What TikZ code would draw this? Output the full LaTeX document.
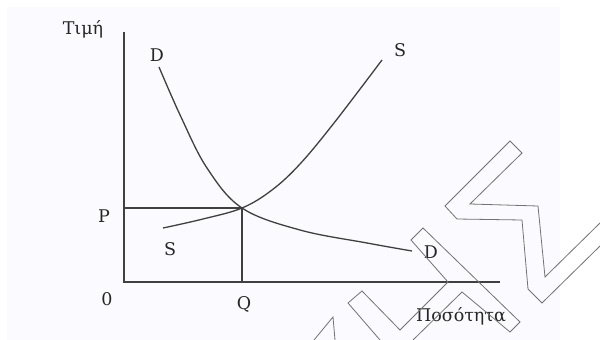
\documentclass[tikz,border=0pt]{standalone}
\usepackage{fontspec}
\setmainfont{DejaVu Serif}
\begin{document}
\begin{tikzpicture}[x=1pt,y=-1pt,
  axis/.style={draw=black!75,line width=1.4pt},
  curve/.style={draw=black!75,line width=1.3pt},
  guide/.style={draw=black!75,line width=1.3pt},
  wm/.style={draw=black!55,line width=0.8pt,line join=miter},
  lbl/.style={inner sep=0pt,font=\fontsize{17.5}{20}\selectfont,text=black!85}]
\useasboundingbox (0,0) rectangle (600,340);
\fill[white] (0,0) rectangle (600,340);
\fill[black!5!blue!2!white] (7,7) rectangle (560,340);
% axes
\coordinate (O) at (124,282);
\coordinate (ytop) at (124,32);
\coordinate (xend) at (500,282);
\coordinate (E) at (242,208);
\coordinate (Pp) at (124,208);
\coordinate (Qq) at (242,282);
\draw[axis] (ytop) -- (O) -- (xend);
\draw[guide] (Pp) -- (E) -- (Qq);
% demand
\draw[curve] plot[smooth,tension=0.6] coordinates {(159,67) (181,117) (207,168) (242,208) (300,230) (367,243) (412,251)};
% supply
\draw[curve] plot[smooth,tension=0.6] coordinates {(163,228) (203,219) (242,208) (272,190) (300,164) (334,123) (382,60)};
% labels
\node[lbl] (tim) at (83,29) {Τιμή};
\node[lbl] (D1) at (157,55) {D};
\node[lbl] (S1) at (400,50) {S};
\node[lbl] (P) at (104,216) {P};
\node[lbl] (S2) at (170,249) {S};
\node[lbl] (D2) at (431,252) {D};
\node[lbl] (zero) at (107,299) {0};
\node[lbl] (Q) at (244,304) {Q};
\node[lbl] (pos) at (461,316) {Ποσότητα};
% watermark outline
\draw[wm] (600,246) -- (542,303) -- (528,289) -- (522,220) -- (457,219) -- (445,206) -- (510,141) -- (522,153) -- (470,204) -- (538,206) -- (545,277) -- (600,223);
\draw[wm] (380,340) -- (348,303) -- (362,291) -- (400,330) -- (448,282) -- (411,240) -- (423,228) -- (520,322) -- (510,332) -- (462,292) -- (413,340);
\draw[wm] (314,340) -- (333,317) -- (335,340);
\end{tikzpicture}
\end{document}
